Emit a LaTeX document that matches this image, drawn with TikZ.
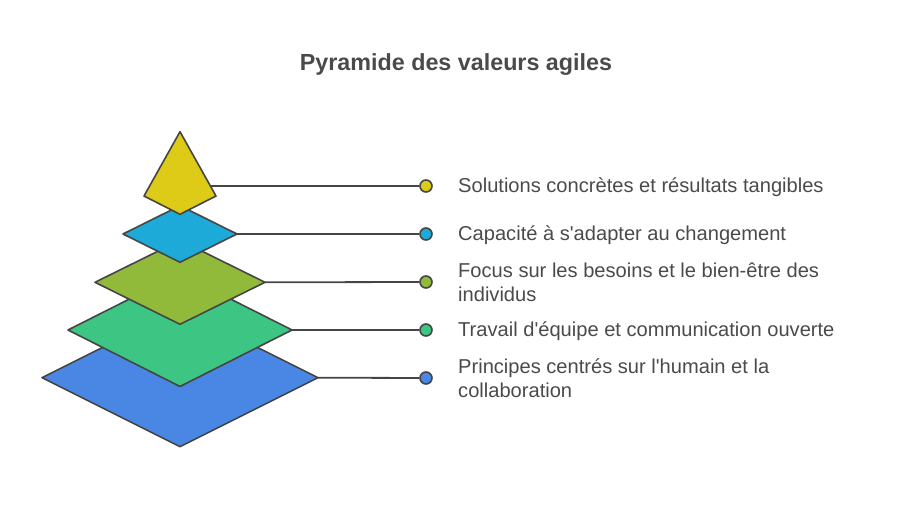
\documentclass[tikz,border=0pt]{standalone}
\usepackage{fontspec}
\setmainfont{Liberation Sans}
\usetikzlibrary{calc}
\definecolor{strk}{HTML}{454545}
\definecolor{txt}{HTML}{4A4A4A}
\definecolor{cYel}{HTML}{DDCB17}
\definecolor{cCya}{HTML}{1EAAD9}
\definecolor{cOli}{HTML}{92BA3A}
\definecolor{cGrn}{HTML}{3CC583}
\definecolor{cBlu}{HTML}{4A86E4}
\tikzset{
  layer/.style={draw=strk, line width=1.6pt, line join=round},
  conn/.style={draw=strk, line width=1.8pt},
  dot/.style={circle, draw=strk, line width=1.6pt, minimum size=12pt, inner sep=0pt},
  lbl/.style={anchor=west, inner sep=0pt, text=txt, align=left, font=\fontsize{20.1}{24}\selectfont},
  ttl/.style={inner sep=0pt, text=txt, font=\fontsize{23.3}{26}\selectfont\bfseries}
}
\begin{document}
\begin{tikzpicture}[x=1pt,y=-1pt]
\useasboundingbox (0,0) rectangle (912,510);
\node[ttl, anchor=base] (title) at (456,71) {Pyramide des valeurs agiles};
% layers, bottom first
\path[layer, fill=cBlu] (42,377.7) coordinate (l5) -- (180,308.7) -- (318,377.7) coordinate (r5) -- (180,446.7) -- cycle;
\path[layer, fill=cGrn] (68,330) coordinate (l4) -- (180,273.5) -- (292,330) coordinate (r4) -- (180,386.5) -- cycle;
\path[layer, fill=cOli] (95,282.3) coordinate (l3) -- (180,240.3) -- (265,282.3) coordinate (r3) -- (180,324.3) -- cycle;
\path[layer, fill=cCya] (123,234) coordinate (l2) -- (180,205.7) -- (237,234) coordinate (r2) -- (180,262.3) -- cycle;
\path[layer, fill=cYel] (180,131.7) coordinate (apex) -- (216,196) coordinate (r1) -- (180,214.3) -- (144,196) coordinate (l1) -- cycle;
\coordinate (e1) at ($(apex)!0.845!(r1)$);
% dots
\node[dot, fill=cYel] (d1) at (426,186) {};
\node[dot, fill=cCya] (d2) at (426,234) {};
\node[dot, fill=cOli] (d3) at (426,282) {};
\node[dot, fill=cGrn] (d4) at (426,330) {};
\node[dot, fill=cBlu] (d5) at (426,378) {};
% connectors
\draw[conn] (e1) -- (d1);
\draw[conn] (r2) -- (d2);
\draw[conn] (r3) -- (d3);
\draw[conn] (r4) -- (d4);
\draw[conn] (r5) -- (d5);
% labels
\node[lbl] (t1) at (458,187.5) {Solutions concrètes et résultats tangibles};
\node[lbl] (t2) at (458,235.5) {Capacité à s\textquotesingle adapter au changement};
\node[lbl] (t3) at (458,282.5) {Focus sur les besoins et le bien-être des\\individus};
\node[lbl] (t4) at (458,331.5) {Travail d\textquotesingle équipe et communication ouverte};
\node[lbl] (t5) at (458,378.5) {Principes centrés sur l\textquotesingle humain et la\\collaboration};
\end{tikzpicture}
\end{document}
